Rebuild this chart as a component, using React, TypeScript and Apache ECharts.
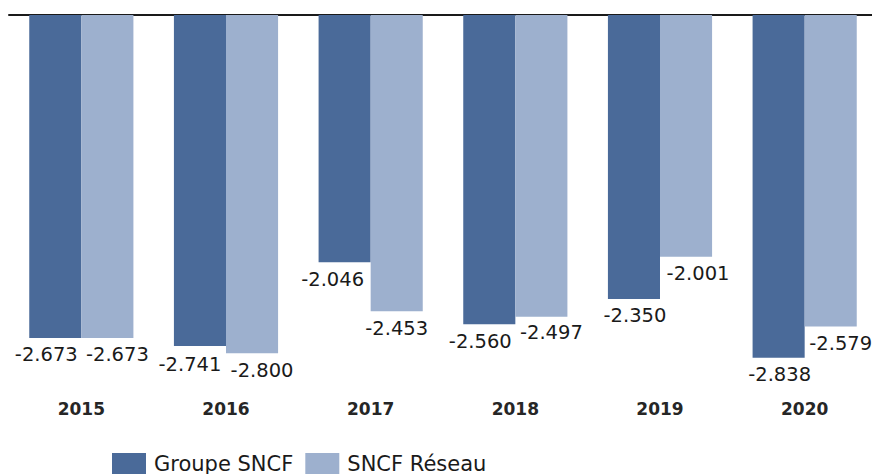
import React, { useEffect, useRef } from "react";
import * as echarts from "echarts";

const categories = ["2015", "2016", "2017", "2018", "2019", "2020"];
const groupeSNCF = [-2.673, -2.741, -2.046, -2.56, -2.35, -2.838];
const sncfReseau = [-2.673, -2.8, -2.453, -2.497, -2.001, -2.579];
const groupeOffsets = [[-9, 0], [-10, 1], [-12, 0], [-9, 0], [1, 0], [1, 0]];
const reseauOffsets = [[10, 0], [10, 0], [0, 0], [10, -1], [12, 0], [10, 0]];

const fmt = (v: number) => v.toFixed(3);

export default function App() {
  const ref = useRef<HTMLDivElement>(null);
  useEffect(() => {
    if (!ref.current) return;
    const chart = echarts.init(ref.current, null, { renderer: "svg" });
    const labelBase = {
      show: true,
      position: "bottom" as const,
      distance: 7,
      fontFamily: "DejaVu Sans",
      fontSize: 19.5,
      color: "#1a1a1a",
      formatter: (p: any) => fmt(p.value),
    };
    chart.setOption({
      animation: false,
      backgroundColor: "#ffffff",
      textStyle: { fontFamily: "DejaVu Sans" },
      legend: {
        left: 107,
        top: 448,
        padding: 5,
        itemWidth: 34,
        itemHeight: 22,
        itemGap: 12,
        icon: "rect",
        textStyle: {
          fontFamily: "DejaVu Sans",
          fontSize: 21,
          color: "#1a1a1a",
          padding: [2, 0, 0, 3],
        },
        data: ["Groupe SNCF", "SNCF Réseau"],
      },
      grid: { left: 9, top: 15, width: 868, height: 362.4 },
      xAxis: [
        {
          type: "category",
          data: categories,
          position: "bottom",
          axisLine: { show: false },
          axisTick: { show: false },
          axisLabel: {
            margin: 23,
            fontFamily: "DejaVu Sans",
            fontSize: 17,
            fontWeight: "bold",
            color: "#262626",
          },
        },
        {
          type: "category",
          data: categories,
          position: "top",
          axisLine: { show: true, lineStyle: { color: "#1a1a1a", width: 2 } },
          axisTick: { show: false },
          axisLabel: { show: false },
        },
      ],
      yAxis: {
        type: "value",
        min: -3,
        max: 0,
        show: false,
        splitLine: { show: false },
      },
      series: [
        {
          name: "Groupe SNCF",
          type: "bar",
          xAxisIndex: 0,
          barGap: "0%",
          barCategoryGap: "28%",
          itemStyle: { color: "#4a6a99" },
          label: labelBase,
          data: groupeSNCF.map((v, i) => ({ value: v, label: { offset: groupeOffsets[i] } })),
        },
        {
          name: "SNCF Réseau",
          type: "bar",
          xAxisIndex: 0,
          itemStyle: { color: "#9db0ce" },
          label: labelBase,
          data: sncfReseau.map((v, i) => ({ value: v, label: { offset: reseauOffsets[i] } })),
        },
      ],
    });
    return () => chart.dispose();
  }, []);
  return (
    <div
      ref={ref}
      style={{ position: "fixed", left: 0, top: 0, width: 880, height: 474 }}
    />
  );
}
